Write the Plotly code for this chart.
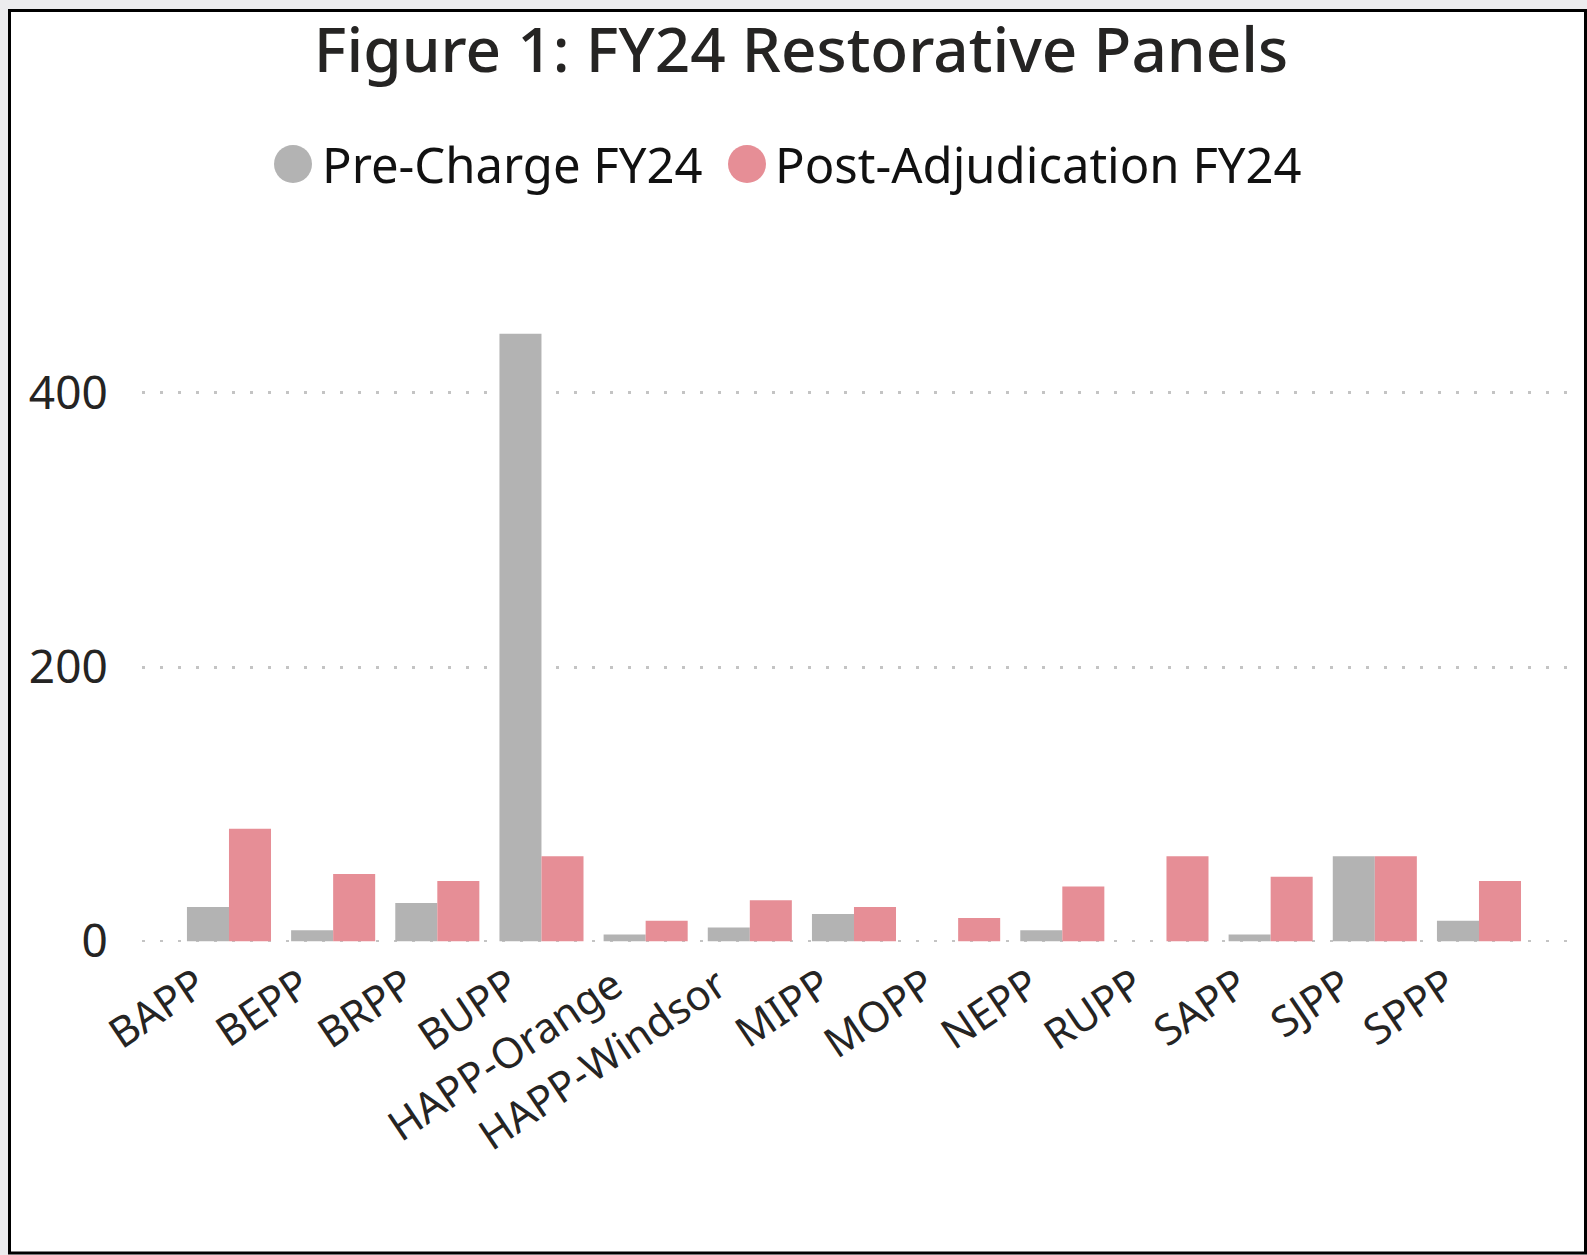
import plotly.graph_objects as go

# ---------------- data ----------------
categories = ["BAPP", "BEPP", "BRPP", "BUPP", "HAPP-Orange", "HAPP-Windsor",
              "MIPP", "MOPP", "NEPP", "RUPP", "SAPP", "SJPP", "SPPP"]
pre_charge = [25, 8, 28, 443, 5, 10, 20, None, 8, None, 5, 62, 15]
post_adjudication = [82, 49, 44, 62, 15, 30, 25, 17, 40, 62, 47, 62, 44]
series_names = ["Pre-Charge FY24", "Post-Adjudication FY24"]
y_ticks = [0, 200, 400]
title_text = "Figure 1: FY24 Restorative Panels"

# ---------------- style ----------------
W, H = 1587, 1255
ML, MR, MT, MB = 142, 20, 283, 313
PW, PH = W - ML - MR, H - MT - MB
GRAY = "#B3B3B3"
PINK = "#E68E96"
TEXT = "#252423"
FONT = "Noto Sans"
GRID = "#C4C4C4"
GRID_DASH = "3px,15px"


def px(xpix):
    return (xpix - ML) / PW


def py(ypix):
    return (H - MB - ypix) / PH


fig = go.Figure()
fig.add_trace(go.Bar(x=categories, y=pre_charge, name=series_names[0],
                     marker=dict(color=GRAY, line=dict(width=0)), showlegend=False))
fig.add_trace(go.Bar(x=categories, y=post_adjudication, name=series_names[1],
                     marker=dict(color=PINK, line=dict(width=0)), showlegend=False))

shapes = [
    # outer white card with black frame
    dict(type="rect", xref="paper", yref="paper", layer="below",
         x0=px(9.5), x1=px(1585.5), y0=py(10.5), y1=py(1253),
         fillcolor="white", line=dict(color="black", width=3)),
    # dotted baseline gridline at zero
    dict(type="line", xref="paper", yref="y", layer="below",
         x0=0, x1=1, y0=y_ticks[0], y1=y_ticks[0],
         line=dict(color=GRID, width=2.5, dash=GRID_DASH)),
    # legend circles
    dict(type="circle", xref="paper", yref="paper", xsizemode="pixel", ysizemode="pixel",
         xanchor=px(293), yanchor=py(164), x0=-19, x1=19, y0=-19, y1=19,
         fillcolor=GRAY, line=dict(width=0)),
    dict(type="circle", xref="paper", yref="paper", xsizemode="pixel", ysizemode="pixel",
         xanchor=px(747), yanchor=py(164), x0=-19, x1=19, y0=-19, y1=19,
         fillcolor=PINK, line=dict(width=0)),
]

annotations = [
    dict(text=series_names[0], xref="paper", yref="paper", x=px(320), y=py(164),
         xanchor="left", yanchor="middle", showarrow=False,
         font=dict(family=FONT, size=49, color="#111111")),
    dict(text=series_names[1], xref="paper", yref="paper", x=px(773), y=py(164),
         xanchor="left", yanchor="middle", showarrow=False,
         font=dict(family=FONT, size=49, color="#111111")),
]

fig.update_layout(
    width=W, height=H,
    margin=dict(l=ML, r=MR, t=MT, b=MB, autoexpand=False),
    paper_bgcolor="#ECECEE",
    plot_bgcolor="rgba(0,0,0,0)",
    barmode="group",
    bargap=0.193,
    bargroupgap=0,
    title=dict(text=title_text, xref="container", yref="container",
               x=801 / W, xanchor="center", y=1 - 50 / H, yanchor="middle",
               font=dict(family=FONT, size=62, color=TEXT, weight=500)),
    shapes=shapes,
    annotations=annotations,
    xaxis=dict(range=[-0.835, len(categories) - 1 + 0.845], showgrid=False,
               zeroline=False, showline=False, ticks="", tickangle=-34,
               ticklabelshift=-32, ticklabelstandoff=10,
               tickfont=dict(family=FONT, size=42, color=TEXT)),
    yaxis=dict(range=[-0.5, 480], tickvals=y_ticks, showgrid=True,
               gridcolor=GRID, gridwidth=2.5, griddash=GRID_DASH,
               zeroline=False, showline=False,
               ticks="outside", ticklen=24, tickcolor="rgba(0,0,0,0)",
               tickfont=dict(family=FONT, size=46, color=TEXT)),
)

fig.write_html("out.html", config={"displayModeBar": False},
               post_script="document.body.style.margin='0';")
